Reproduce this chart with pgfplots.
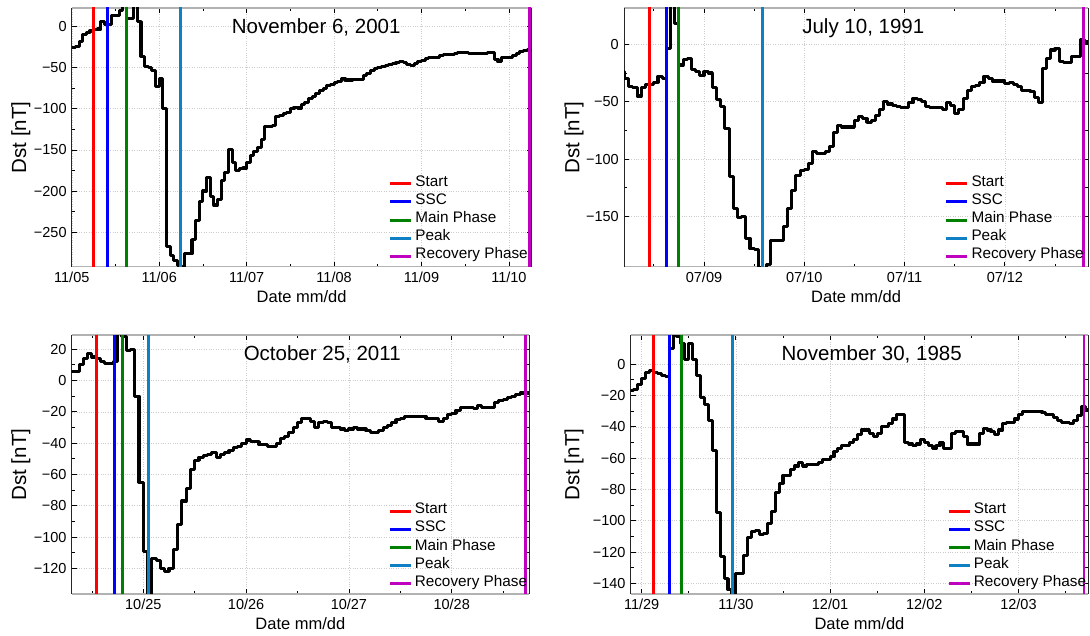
\documentclass[border=0pt]{standalone}
\usepackage{fontspec}
\setmainfont{Liberation Sans}
\usepackage{pgfplots}
\pgfplotsset{compat=1.18}
\definecolor{cstart}{rgb}{1,0,0}
\definecolor{cssc}{rgb}{0,0,1}
\definecolor{cmain}{rgb}{0,0.5,0}
\definecolor{cpeak}{rgb}{0.06,0.5,0.77}
\definecolor{crec}{rgb}{0.75,0,0.75}
\pgfplotsset{
 dstaxis/.style={
  scale only axis,
  separate axis lines,
  x axis line style={gray!60, line width=1.6pt},
  y axis line style={black!85, line width=0.9pt},
  tick style={black, line width=0.8pt},
  major tick length=5pt, minor tick length=3pt,
  tick align=inside,
  grid=major,
  major grid style={dotted, gray!40, line width=0.6pt},
  minor y tick num=1,
  tick label style={font=\fontsize{14.5}{16}\selectfont},
  xticklabel style={inner sep=0pt, anchor=north, yshift=-5pt},
  yticklabel style={inner sep=0pt, anchor=east, xshift=-5pt},
  xlabel={Date mm/dd},
  ylabel={Dst [nT]},
  xlabel style={font=\fontsize{16.5}{18}\selectfont, at={(axis description cs:0.5,0)}, anchor=center, yshift=-29.5pt},
  ylabel style={font=\fontsize{20.5}{22}\selectfont, anchor=center},
  title style={font=\fontsize{20.5}{22}\selectfont, anchor=base, inner sep=0pt},
  legend style={draw=none, fill=none, font=\fontsize{15.3}{17}\selectfont, anchor=north west, inner sep=0pt, outer sep=0pt, row sep=0pt, nodes={inner sep=0pt, text height=11.5pt, text depth=6.65pt}, /tikz/every odd column/.append style={column sep=2.6pt}},
  legend cell align=left,
  legend image code/.code={\draw[##1] (0pt,0pt) -- (21pt,0pt);},
  legend entries={Start,SSC,Main Phase,Peak,Recovery Phase},
 },
 dst/.style={const plot mark left, black, line width=3.1pt, line join=round, forget plot},
 vl/.style={line width=2.9pt},
}
\begin{document}
\begin{tikzpicture}
\useasboundingbox (0,0) rectangle (1090pt,636pt);
% Panel 1
\begin{axis}[dstaxis, at={(71.8pt,369.3pt)}, anchor=south west, width=459.7pt, height=258.7pt,
  xmin=0, xmax=126.2, ymin=-292, ymax=22.6,
  xtick={0,24,48,72,96,120}, xticklabels={11/05,11/06,11/07,11/08,11/09,11/10},
  minor xtick={12,36,60,84,108},
  ytick={-250,-200,-150,-100,-50,0}, yticklabels={−250,−200,−150,−100,−50,0},
  ylabel style={at={(axis description cs:-0.111,0.5)}},
  title={November 6, 2001}, title style={at={(axis description cs:0.5316,1)}, yshift=-31.4pt},
  legend style={at={(axis description cs:0.690,0.3556)}}]
\addplot[dst] coordinates {(0,-26)(1,-24)(2,-18)(3,-10)(4,-7)(5,-5)(6,-4)(7,-3)(8,6)(9,2)(10,2)(11,13)(12,14)(13,20)(14,30)(15,10)(16,10)(17,30)(18,6)(19,-36)(20,-49)(21,-50)(22,-53)(23,-73)(24,-63)(25,-100)(26,-268)(27,-278)(28,-285)(29,-291)(30,-295)(31,-276)(32,-276)(33,-259)(34,-236)(35,-213)(36,-200)(37,-183)(38,-207)(39,-217)(40,-210)(41,-187)(42,-177)(43,-150)(44,-165)(45,-175)(46,-173)(47,-172)(48,-165)(49,-157)(50,-152)(51,-147)(52,-137)(53,-121)(54,-121)(55,-120)(56,-109)(57,-108)(58,-106)(59,-105)(60,-100)(61,-98)(62,-99)(63,-95)(64,-92)(65,-88)(66,-85)(67,-81)(68,-78)(69,-75)(70,-72)(71,-70)(72,-68)(73,-67)(74,-63)(75,-65)(76,-65)(77,-64)(78,-64)(79,-64)(80,-60)(81,-57)(82,-53)(83,-51)(84,-50)(85,-49)(86,-47)(87,-46)(88,-45)(89,-44)(90,-43)(91,-44)(92,-46)(93,-47)(94,-45)(95,-43)(96,-41)(97,-39)(98,-38)(99,-38)(100,-38)(101,-35)(102,-34)(103,-34)(104,-34)(105,-33)(106,-32)(107,-32)(108,-32)(109,-33)(110,-33)(111,-33)(112,-33)(113,-33)(114,-32)(115,-32)(116,-40)(117,-43)(118,-38)(119,-38)(120,-38)(121,-35)(122,-33)(123,-30)(124,-29)(125,-28)(126,-29)(127,-29)};
\addplot[cstart, vl] coordinates {(6,-1000) (6,1000)};
\addplot[cssc, vl] coordinates {(9.75,-1000) (9.75,1000)};
\addplot[cmain, vl] coordinates {(15,-1000) (15,1000)};
\addplot[cpeak, vl] coordinates {(29.8,-1000) (29.8,1000)};
\addplot[crec, vl] coordinates {(125.6,-1000) (125.6,1000)};
\end{axis}
% Panel 2
\begin{axis}[dstaxis, at={(624pt,369.3pt)}, anchor=south west, width=464.3pt, height=258.7pt,
  xmin=4.86, xmax=115.96, ymin=-193.6, ymax=31.6,
  xtick={24,48,72,96}, xticklabels={07/09,07/10,07/11,07/12},
  minor xtick={12,36,60,84,108},
  ytick={-150,-100,-50,0}, yticklabels={−150,−100,−50,0},
  ylabel style={at={(axis description cs:-0.1077,0.5)}},
  title={July 10, 1991}, title style={at={(axis description cs:0.5154,1)}, yshift=-31.85pt},
  legend style={at={(axis description cs:0.6914,0.3556)}}]
\addplot[dst] coordinates {(4,-24)(5,-30)(6,-37)(7,-38)(8,-45)(9,-38)(10,-35)(11,-35)(12,-33)(13,-28)(14,-30)(15,-4)(16,40)(17,18)(18,-18)(19,-13)(20,-12)(21,-22)(22,-24)(23,-27)(24,-24)(25,-25)(26,-38)(27,-48)(28,-54)(29,-73)(30,-115)(31,-143)(32,-151)(33,-150)(34,-169)(35,-178)(36,-179)(37,-194)(38,-196)(39,-192)(40,-171)(41,-171)(42,-171)(43,-159)(44,-143)(45,-127)(46,-114)(47,-110)(48,-109)(49,-104)(50,-93)(51,-95)(52,-95)(53,-93)(54,-89)(55,-77)(56,-71)(57,-72)(58,-72)(59,-72)(60,-66)(61,-63)(62,-65)(63,-68)(64,-66)(65,-62)(66,-57)(67,-50)(68,-52)(69,-53)(70,-54)(71,-55)(72,-55)(73,-51)(74,-47)(75,-48)(76,-50)(77,-54)(78,-55)(79,-55)(80,-55)(81,-57)(82,-51)(83,-53)(84,-60)(85,-57)(86,-47)(87,-40)(88,-37)(89,-36)(90,-33)(91,-28)(92,-30)(93,-32)(94,-32)(95,-32)(96,-34)(97,-33)(98,-35)(99,-37)(100,-40)(101,-40)(102,-41)(103,-46)(104,-51)(105,-21)(106,-12)(107,-5)(108,-4)(109,-15)(110,-16)(111,-16)(112,-11)(113,-11)(114,4)(115,2)(116,2)};
\addplot[cstart, vl] coordinates {(10.9,-1000) (10.9,1000)};
\addplot[cssc, vl] coordinates {(15,-1000) (15,1000)};
\addplot[cmain, vl] coordinates {(17.85,-1000) (17.85,1000)};
\addplot[cpeak, vl] coordinates {(37.95,-1000) (37.95,1000)};
\addplot[crec, vl] coordinates {(114.9,-1000) (114.9,1000)};
\end{axis}
% Panel 3
\begin{axis}[dstaxis, at={(71.7pt,42pt)}, anchor=south west, width=457.3pt, height=258.7pt,
  xmin=7.28, xmax=114.05, ymin=-136.4, ymax=28.9,
  xtick={24,48,72,96}, xticklabels={10/25,10/26,10/27,10/28},
  minor xtick={12,36,60,84,108},
  ytick={-120,-100,-80,-60,-40,-20,0,20}, yticklabels={−120,−100,−80,−60,−40,−20,0,20},
  ylabel style={at={(axis description cs:-0.1115,0.5)}},
  title={October 25, 2011}, title style={at={(axis description cs:0.5478,1)}, yshift=-31.1pt},
  legend style={at={(axis description cs:0.6923,0.3545)}}]
\addplot[dst] coordinates {(7,6)(8,6)(9,10)(10,14)(11,17)(12,15)(13,14)(14,12)(15,11)(16,11)(17,12)(18,30)(19,28)(20,19)(21,20)(22,-10)(23,-65)(24,-109)(25,-145)(26,-114)(27,-115)(28,-120)(29,-122)(30,-120)(31,-108)(32,-92)(33,-77)(34,-69)(35,-57)(36,-51)(37,-49)(38,-48)(39,-47)(40,-46)(41,-49)(42,-47)(43,-46)(44,-45)(45,-43)(46,-42)(47,-40)(48,-38)(49,-39)(50,-39)(51,-41)(52,-41)(53,-42)(54,-42)(55,-40)(56,-37)(57,-36)(58,-33)(59,-30)(60,-27)(61,-24)(62,-24)(63,-26)(64,-30)(65,-27)(66,-26)(67,-27)(68,-30)(69,-30)(70,-31)(71,-32)(72,-31)(73,-30)(74,-31)(75,-31)(76,-32)(77,-33)(78,-33)(79,-32)(80,-30)(81,-29)(82,-27)(83,-25)(84,-24)(85,-23)(86,-23)(87,-23)(88,-23)(89,-23)(90,-24)(91,-24)(92,-24)(93,-26)(94,-24)(95,-22)(96,-21)(97,-19)(98,-17)(99,-17)(100,-17)(101,-18)(102,-16)(103,-17)(104,-17)(105,-17)(106,-14)(107,-13)(108,-12)(109,-11)(110,-10)(111,-9)(112,-8)(113,-8)(114,-8)(115,-8)};
\addplot[cstart, vl] coordinates {(13,-1000) (13,1000)};
\addplot[cssc, vl] coordinates {(17.2,-1000) (17.2,1000)};
\addplot[cmain, vl] coordinates {(19.2,-1000) (19.2,1000)};
\addplot[cpeak, vl] coordinates {(25.2,-1000) (25.2,1000)};
\addplot[crec, vl] coordinates {(113.3,-1000) (113.3,1000)};
\end{axis}
% Panel 4
\begin{axis}[dstaxis, at={(630.7pt,42pt)}, anchor=south west, width=457.6pt, height=258.7pt,
  xmin=-2.8, xmax=113.8, ymin=-146.8, ymax=18.5,
  xtick={0,24,48,72,96}, xticklabels={11/29,11/30,12/01,12/02,12/03},
  minor xtick={12,36,60,84,108},
  ytick={-140,-120,-100,-80,-60,-40,-20,0}, yticklabels={−140,−120,−100,−80,−60,−40,−20,0},
  ylabel style={at={(axis description cs:-0.124,0.5)}},
  title={November 30, 1985}, title style={at={(axis description cs:0.5267,1)}, yshift=-31.1pt},
  legend style={at={(axis description cs:0.6919,0.3545)}}]
\addplot[dst] coordinates {(-3,-17)(-2,-16)(-1,-13)(0,-9)(1,-5)(2,-4)(3,-5)(4,-6)(5,-7)(6,-8)(7,10)(8,22)(9,18)(10,13)(11,3)(12,13)(13,3)(14,-7)(15,-21)(16,-26)(17,-36)(18,-55)(19,-95)(20,-123)(21,-137)(22,-144)(23,-150)(24,-134)(25,-134)(26,-122)(27,-111)(28,-107)(29,-106)(30,-109)(31,-108)(32,-102)(33,-94)(34,-82)(35,-76)(36,-71)(37,-71)(38,-67)(39,-65)(40,-63)(41,-65)(42,-64)(43,-64)(44,-64)(45,-63)(46,-61)(47,-61)(48,-59)(49,-56)(50,-54)(51,-52)(52,-52)(53,-50)(54,-48)(55,-45)(56,-42)(57,-42)(58,-44)(59,-46)(60,-44)(61,-40)(62,-40)(63,-38)(64,-35)(65,-32)(66,-32)(67,-50)(68,-51)(69,-52)(70,-51)(71,-48)(72,-50)(73,-52)(74,-54)(75,-52)(76,-50)(77,-54)(78,-54)(79,-44)(80,-43)(81,-43)(82,-46)(83,-51)(84,-51)(85,-51)(86,-44)(87,-41)(88,-42)(89,-43)(90,-45)(91,-42)(92,-38)(93,-37)(94,-37)(95,-35)(96,-32)(97,-30)(98,-30)(99,-30)(100,-30)(101,-30)(102,-31)(103,-32)(104,-32)(105,-34)(106,-36)(107,-37)(108,-37)(109,-38)(110,-36)(111,-33)(112,-27)(113,-29)(114,-29)};
\addplot[cstart, vl] coordinates {(2.96,-1000) (2.96,1000)};
\addplot[cssc, vl] coordinates {(7.03,-1000) (7.03,1000)};
\addplot[cmain, vl] coordinates {(10.1,-1000) (10.1,1000)};
\addplot[cpeak, vl] coordinates {(23.08,-1000) (23.08,1000)};
\addplot[crec, vl] coordinates {(112.7,-1000) (112.7,1000)};
\end{axis}
\end{tikzpicture}
\end{document}
